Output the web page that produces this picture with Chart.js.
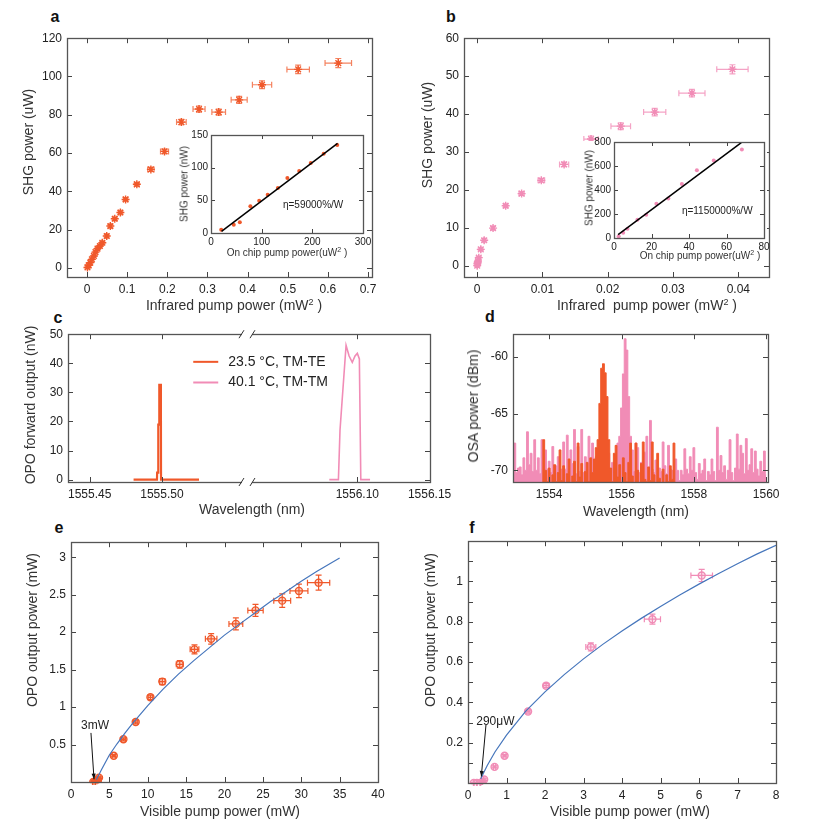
<!DOCTYPE html>
<html>
<head>
<meta charset="utf-8">
<script src="https://cdn.jsdelivr.net/npm/chart.js@4.4.0/dist/chart.umd.min.js"></script>
<style>
body { margin: 0; background: #fff; width: 838px; height: 834px; position: relative; overflow: hidden; font-family: "Liberation Sans", Arial, sans-serif; color: #333; }
canvas { position: absolute; }
.t { position: absolute; white-space: nowrap; transform: translate(-50%, -50%); font-size: 14px; }
.t.v { transform: translate(-50%, -50%) rotate(-90deg); }
.t.s { font-size: 10px; }
.t sup { font-size: 9px; }
.t.s sup { font-size: 7px; }
.L { position: absolute; font-weight: bold; font-size: 16px; color: #111; transform: translate(-50%, -50%); }
</style>
</head>
<body>

<div class="L" style="left:55px;top:17px">a</div>
<div class="L" style="left:451px;top:17px">b</div>
<div class="L" style="left:58px;top:318px">c</div>
<div class="L" style="left:490px;top:317px">d</div>
<div class="L" style="left:59px;top:528px">e</div>
<div class="L" style="left:472px;top:528px">f</div>

<script>
// Colours
const ORANGE = 'rgb(240,88,42)';
const PINK = 'rgb(241,140,182)';
const BLUE = 'rgb(70,118,188)';
const FONT = '"Liberation Sans", Arial, sans-serif';

// ---- a: SHG vs infrared pump (TM-TE) ----
const aX = [0.001, 0.004, 0.008, 0.012, 0.017, 0.021, 0.026, 0.032, 0.038, 0.049, 0.058, 0.069, 0.083, 0.096, 0.124, 0.159, 0.193, 0.235, 0.279, 0.328, 0.379, 0.436, 0.526, 0.626];
const aY = [0.3, 1.4, 2.8, 4.5, 6.3, 8.3, 10.1, 11.5, 13.2, 16.7, 21.9, 25.7, 29.0, 35.8, 43.7, 51.5, 60.9, 76.2, 83.0, 81.4, 87.8, 95.7, 103.7, 107.0];
const aXErr = [0, 0, 0, 0.001, 0.001, 0.001, 0.001, 0.002, 0.002, 0.003, 0.003, 0.004, 0.004, 0.005, 0.006, 0.008, 0.010, 0.012, 0.015, 0.017, 0.020, 0.024, 0.028, 0.033];
const aYErr = [0.3, 0.3, 0.3, 0.3, 0.4, 0.4, 0.5, 0.5, 0.6, 0.6, 0.7, 0.8, 0.8, 0.9, 1.0, 1.1, 1.2, 1.4, 1.6, 1.6, 1.8, 2.0, 2.2, 2.4];
const aXTicks = [0, 0.1, 0.2, 0.3, 0.4, 0.5, 0.6, 0.7];
const aXLabels = ['0', '0.1', '0.2', '0.3', '0.4', '0.5', '0.6', '0.7'];
const aYTicks = [0, 20, 40, 60, 80, 100, 120];
const aYLabels = ['0', '20', '40', '60', '80', '100', '120'];

// inset of a
const iaX = [20.1, 44.9, 56.9, 77.7, 95.1, 111.9, 132, 150.7, 174.1, 196.9, 222.4, 249.2];
const iaY = [5.1, 12.8, 16.3, 40.8, 49.5, 58.7, 68.9, 84.2, 94.9, 107.1, 121.4, 134.7];
const iaFitX = [20.8, 249.8];
const iaFitY = [2.6, 137.2];
const iaXTicks = [0, 100, 200, 300];
const iaYTicks = [0, 50, 100, 150];

// ---- b: SHG vs infrared pump (TM-TM) ----
const bX = [0.00002, 0.00005, 0.0001, 0.00015, 0.00026, 0.00057, 0.00109, 0.00245, 0.00438, 0.00682, 0.00984, 0.01333, 0.01745, 0.0220, 0.0272, 0.0329, 0.0391];
const bY = [0, 0.5, 0.9, 1.2, 2.1, 4.3, 6.7, 9.9, 15.8, 19.0, 22.5, 26.7, 33.4, 36.8, 40.5, 45.5, 51.8];
const bXErr = [0, 0, 0, 0, 0, 0.00005, 0.0001, 0.00015, 0.0003, 0.0004, 0.0005, 0.0007, 0.0011, 0.0015, 0.0017, 0.002, 0.0024];
const bYErr = [0.3, 0.3, 0.3, 0.3, 0.3, 0.3, 0.4, 0.4, 0.5, 0.5, 0.5, 0.6, 0.8, 0.9, 1.0, 1.0, 1.2];
const bXTicks = [0, 0.01, 0.02, 0.03, 0.04];
const bXLabels = ['0', '0.01', '0.02', '0.03', '0.04'];
const bYTicks = [0, 10, 20, 30, 40, 50, 60];

// inset of b
const ibX = [2.5, 4.9, 7.2, 12.5, 17.2, 22.6, 29, 36.2, 44.2, 53.2, 68.2];
const ibY = [14, 44, 78, 152, 194, 285, 330, 449, 565, 645, 737];
const ibFitX = [2.2, 67.9];
const ibFitY = [28, 795];
const ibXTicks = [0, 20, 40, 60, 80];
const ibYTicks = [0, 200, 400, 600, 800];

// ---- c: OPO forward output spectra (broken wavelength axis) ----
const cShift = 0.4647; // right segment is drawn shifted left by this much
const cBreak = 1555.5589;
const cOrangeX = [1555.4804, 1555.4966, 1555.4967, 1555.4974, 1555.4975, 1555.4981, 1555.4982, 1555.4993, 1555.4994, 1555.5257];
const cOrangeY = [0, 0, 2.4, 2.4, 18.9, 18.9, 32.6, 32.6, 0, 0];
const cPinkX = [1556.0806, 1556.0869, 1556.0880, 1556.0922, 1556.0943, 1556.0965, 1556.0984, 1556.1000, 1556.1014, 1556.1024, 1556.1088];
const cPinkY = [0, 0, 17, 46.2, 42.5, 40.3, 42.5, 43.4, 41.5, 0, 0];
const cXTicks = [1555.45, 1555.50, 1556.10, 1556.15];
const cXLabels = ['1555.45', '1555.50', '1556.10', '1556.15'];
const cYTicks = [0, 10, 20, 30, 40, 50];
const cLegend = ['23.5 \u00B0C, TM-TE', '40.1 \u00B0C, TM-TM'];

// ---- d: OSA spectra, one value every 0.05 nm ----
const dPinkStart = 1553.0, dOrangeStart = 1553.8, dStep = 0.05;
const dPink = [-70.5, -67.6, -70.2, -69.8, -69.7, -70.4, -68.9, -70.0, -66.6, -69.5,
  -68.5, -70.1, -67.3, -70.0, -68.9, -70.3, -67.3, -69.8, -68.2, -69.9,
  -69.2, -70.2, -67.9, -69.8, -69.6, -68.8, -70.4, -69.9, -67.5, -69.9,
  -66.9, -70.1, -68.2, -69.4, -66.4, -70.3, -67.9, -70.1, -66.4, -70.2,
  -68.8, -69.9, -67.0, -70.1, -67.6, -69.8, -68.8, -70.4, -69.5, -70.0,
  -71.0, -69.8, -70.3, -68.5, -70.1, -69.3, -70.2, -68.9, -67.6, -67.0,
  -64.5, -61.5, -58.4, -59.4, -63.5, -67.0, -68.2, -70.1, -67.6, -68.0,
  -70.2, -69.3, -70.4, -68.4, -67.0, -69.8, -65.6, -69.9, -70.2, -69.1,
  -70.5, -69.8, -70.1, -67.5, -69.6, -70.3, -67.8, -69.9, -70.0, -70.8,
  -69.0, -70.0, -70.9, -70.0, -70.4, -68.1, -69.9, -70.3, -68.8, -70.0,
  -68.0, -70.2, -70.8, -69.4, -70.3, -70.0, -69.0, -70.9, -70.1, -70.4,
  -69.0, -70.1, -70.9, -66.2, -70.0, -68.7, -70.2, -69.6, -70.8, -70.0,
  -67.3, -70.2, -70.9, -69.8, -66.8, -69.9, -67.8, -68.5, -70.3, -67.2,
  -70.0, -69.5, -68.1, -70.2, -68.3, -69.9, -70.5, -69.2, -70.1, -68.3, -70.4];
const dOrange = [-71.2, -67.3, -70.0, -71.0, -69.8, -71.2, -70.4, -69.5, -71.0, -70.2,
  -68.2, -70.9, -69.6, -71.1, -70.3, -69.0, -71.2, -70.5, -69.2, -71.0,
  -67.6, -70.6, -69.4, -71.1, -70.1, -69.3, -71.0, -68.9, -70.2, -69.0,
  -68.0, -67.3, -64.1, -61.0, -60.6, -61.4, -63.5, -67.3, -69.8, -71.0,
  -68.5, -67.8, -70.6, -69.5, -71.2, -68.9, -70.2, -71.0, -69.3, -67.6,
  -70.5, -71.1, -67.6, -70.0, -71.3, -69.4, -67.5, -70.8, -71.0, -69.7,
  -70.9, -67.5, -70.4, -71.2, -68.5, -70.7, -71.1, -69.9, -71.3, -70.4,
  -71.0, -69.6, -70.8, -67.6, -71.2];
const dXTicks = [1554, 1556, 1558, 1560];
const dYTicks = [-60, -65, -70];

// ---- e: OPO output vs visible pump (TM-TE) ----
const eX = [2.9, 3.1, 3.3, 3.5, 3.65, 5.57, 6.83, 8.43, 10.35, 11.9, 14.17, 16.09, 18.26, 21.48, 24.04, 27.52, 29.7, 32.26];
const eY = [0, 0, 0.01, 0.02, 0.058, 0.35, 0.57, 0.80, 1.13, 1.34, 1.57, 1.77, 1.91, 2.11, 2.29, 2.42, 2.55, 2.66];
const eXErr = [0.1, 0.1, 0.1, 0.1, 0.15, 0.2, 0.25, 0.28, 0.3, 0.35, 0.45, 0.57, 0.75, 0.9, 1.0, 1.1, 1.17, 1.45];
const eYErr = [0.01, 0.01, 0.01, 0.01, 0.01, 0.015, 0.02, 0.025, 0.03, 0.04, 0.05, 0.06, 0.07, 0.08, 0.08, 0.09, 0.09, 0.1];
const eFitX = [3.3, 4, 5, 6, 7, 8, 10, 12, 14, 16, 18, 20, 22, 24, 26, 28, 30, 32, 35];
const eFitY = [0.03, 0.17, 0.36, 0.51, 0.65, 0.78, 1.02, 1.24, 1.44, 1.62, 1.79, 1.96, 2.11, 2.26, 2.41, 2.54, 2.68, 2.81, 2.99];
const eXTicks = [0, 5, 10, 15, 20, 25, 30, 35, 40];
const eYTicks = [0.5, 1, 1.5, 2, 2.5, 3];

// ---- f: OPO output vs visible pump (TM-TM) ----
const fX = [0.15, 0.23, 0.32, 0.37, 0.42, 0.69, 0.95, 1.56, 2.03, 3.19, 4.79, 6.07];
const fY = [0, 0, 0, 0.005, 0.017, 0.08, 0.135, 0.355, 0.483, 0.675, 0.813, 1.03];
const fXErr = [0.01, 0.01, 0.01, 0.01, 0.02, 0.03, 0.04, 0.05, 0.07, 0.13, 0.21, 0.28];
const fYErr = [0.003, 0.003, 0.003, 0.003, 0.004, 0.005, 0.006, 0.008, 0.01, 0.02, 0.025, 0.03];
const fFitX = [0.33, 0.4, 0.5, 0.7, 1, 1.5, 2, 2.5, 3, 3.5, 4, 4.5, 5, 5.5, 6, 6.5, 7, 7.5, 8];
const fFitY = [0.02, 0.048, 0.087, 0.154, 0.238, 0.357, 0.452, 0.538, 0.616, 0.688, 0.754, 0.817, 0.876, 0.933, 0.987, 1.038, 1.088, 1.136, 1.18];
const fXTicks = [0, 1, 2, 3, 4, 5, 6, 7, 8];
const fYTicks = [0.1, 0.2, 0.3, 0.4, 0.5, 0.6, 0.7, 0.8, 0.9, 1.0, 1.1];
const fYLabels = ['', '0.2', '', '0.4', '', '0.6', '', '0.8', '', '1', ''];

// helpers
const pts = (xs, ys, shift = 0) => xs.map((x, i) => ({ x: x - shift, y: ys[i] }));
const seq = (start, vals) => vals.map((v, i) => ({ x: start + i * dStep, y: v }));
const str = arr => arr.map(v => String(v));

// gnuplot-like frame with inward ticks on all sides
const frame = {
  id: 'frame',
  beforeDraw(chart, args, o) {
    if (!o.bg) return;
    const a = chart.chartArea, ctx = chart.ctx;
    ctx.save();
    ctx.fillStyle = '#fff';
    ctx.fillRect(0, a.top - 1, a.right + 3, chart.height - a.top + 1);
    ctx.restore();
  },
  afterDatasetsDraw(chart, args, o) {
    const { ctx, chartArea: a, scales: { x, y } } = chart;
    const tl = o.tick || 5;
    ctx.save();
    ctx.strokeStyle = '#444';
    ctx.lineWidth = 1;
    ctx.beginPath();
    x.ticks.forEach(t => {
      const px = Math.round(x.getPixelForValue(t.value)) + 0.5;
      ctx.moveTo(px, a.bottom); ctx.lineTo(px, a.bottom - tl);
      ctx.moveTo(px, a.top); ctx.lineTo(px, a.top + tl);
    });
    y.ticks.forEach(t => {
      const py = Math.round(y.getPixelForValue(t.value)) + 0.5;
      ctx.moveTo(a.left, py); ctx.lineTo(a.left + tl, py);
      ctx.moveTo(a.right, py); ctx.lineTo(a.right - tl, py);
    });
    ctx.stroke();
    ctx.strokeStyle = '#555';
    ctx.lineWidth = 1.3;
    ctx.strokeRect(Math.round(a.left) + 0.5, Math.round(a.top) + 0.5, Math.round(a.right - a.left), Math.round(a.bottom - a.top));
    if (o.breakAt !== undefined) {
      const bx = x.getPixelForValue(o.breakAt);
      [a.top, a.bottom].forEach(yy => {
        ctx.fillStyle = '#fff';
        ctx.fillRect(bx - 5, yy - 3, 10, 6);
        ctx.strokeStyle = '#333';
        ctx.lineWidth = 1;
        ctx.beginPath();
        ctx.moveTo(bx - 8, yy + 4); ctx.lineTo(bx - 3, yy - 4);
        ctx.moveTo(bx + 3, yy + 4); ctx.lineTo(bx + 8, yy - 4);
        ctx.stroke();
      });
    }
    ctx.restore();
  }
};

// error bars from dataset.errX / dataset.errY
const errorBars = {
  id: 'errorBars',
  beforeDatasetsDraw(chart) {
    const { ctx, scales: { x, y } } = chart;
    ctx.save();
    chart.data.datasets.forEach(ds => {
      if (!ds.errX) return;
      ctx.strokeStyle = ds.errColor || ds.borderColor;
      ctx.lineWidth = 1.2;
      ctx.beginPath();
      ds.data.forEach((p, i) => {
        const px = x.getPixelForValue(p.x), py = y.getPixelForValue(p.y);
        const x1 = x.getPixelForValue(p.x - ds.errX[i]), x2 = x.getPixelForValue(p.x + ds.errX[i]);
        const y1 = y.getPixelForValue(p.y - ds.errY[i]), y2 = y.getPixelForValue(p.y + ds.errY[i]);
        const c = 3;
        ctx.moveTo(x1, py); ctx.lineTo(x2, py);
        ctx.moveTo(x1, py - c); ctx.lineTo(x1, py + c);
        ctx.moveTo(x2, py - c); ctx.lineTo(x2, py + c);
        ctx.moveTo(px, y1); ctx.lineTo(px, y2);
        ctx.moveTo(px - c, y1); ctx.lineTo(px + c, y1);
        ctx.moveTo(px - c, y2); ctx.lineTo(px + c, y2);
      });
      ctx.stroke();
    });
    ctx.restore();
  }
};

// text, arrows and legend entries placed in data coordinates
const notes = {
  id: 'notes',
  afterDraw(chart, args, o) {
    const { ctx, scales: { x, y } } = chart;
    ctx.save();
    (o.lines || []).forEach(l => {
      const x1 = x.getPixelForValue(l.x1), y1 = y.getPixelForValue(l.y1);
      const x2 = x.getPixelForValue(l.x2), y2 = y.getPixelForValue(l.y2);
      ctx.strokeStyle = l.color || '#111';
      ctx.lineWidth = l.width || 1;
      ctx.beginPath(); ctx.moveTo(x1, y1); ctx.lineTo(x2, y2); ctx.stroke();
      if (l.arrow) {
        const ang = Math.atan2(y2 - y1, x2 - x1), h = 6;
        ctx.fillStyle = l.color || '#111';
        ctx.beginPath();
        ctx.moveTo(x2, y2);
        ctx.lineTo(x2 - h * Math.cos(ang - 0.35), y2 - h * Math.sin(ang - 0.35));
        ctx.lineTo(x2 - h * Math.cos(ang + 0.35), y2 - h * Math.sin(ang + 0.35));
        ctx.closePath(); ctx.fill();
      }
    });
    (o.texts || []).forEach(t => {
      ctx.fillStyle = '#222';
      ctx.font = (t.size || 12) + 'px ' + FONT;
      ctx.textAlign = t.align || 'left';
      ctx.textBaseline = 'middle';
      ctx.fillText(t.text, x.getPixelForValue(t.x), y.getPixelForValue(t.y));
    });
    ctx.restore();
  }
};

function axis(s, size, dir) {
  return {
    type: 'linear',
    min: s.min,
    max: s.max,
    grid: { display: false, drawTicks: false },
    border: { display: false },
    afterBuildTicks: sc => { sc.ticks = s.ticks.map(v => ({ value: v })); },
    afterFit: sc => { if (dir === 'x') sc.height = size; else sc.width = size; },
    ticks: {
      autoSkip: false, maxRotation: 0, minRotation: 0,
      padding: s.pad || 5,
      color: '#222',
      font: { family: FONT, size: s.font || 12 },
      callback: (v, i) => s.labels[i]
    }
  };
}

// box = plot area [left, top, right, bottom] in page pixels, m = margins around it
function makeChart(box, m, xs, ys, datasets, pluginOpts) {
  const [L, T, R, B] = box;
  const W = R - L + m.l + m.r, H = B - T + m.t + m.b;
  const cv = document.createElement('canvas');
  cv.width = W; cv.height = H;
  cv.style.left = (L - m.l) + 'px';
  cv.style.top = (T - m.t) + 'px';
  cv.style.width = W + 'px';
  cv.style.height = H + 'px';
  document.body.appendChild(cv);
  return new Chart(cv, {
    type: 'scatter',
    data: { datasets: datasets },
    options: {
      responsive: false,
      animation: false,
      devicePixelRatio: 1,
      layout: { padding: { left: 0, top: m.t, right: m.r, bottom: 0 } },
      plugins: Object.assign({ legend: { display: false }, tooltip: { enabled: false } }, pluginOpts || {}),
      scales: { x: axis(xs, m.b, 'x'), y: axis(ys, m.l, 'y') }
    },
    plugins: [frame, errorBars, notes]
  });
}

const MAIN = { l: 60, t: 12, r: 30, b: 40 };
const INSET = { l: 32, t: 8, r: 14, b: 22 };

// a
makeChart([67, 38, 372, 277], MAIN,
  { min: -0.05, max: 0.71, ticks: aXTicks, labels: aXLabels },
  { min: -4.7, max: 120, ticks: aYTicks, labels: aYLabels },
  [{ data: pts(aX, aY), errX: aXErr, errY: aYErr, errColor: 'rgba(240,88,42,0.75)',
     pointStyle: 'star', pointRadius: 4, borderWidth: 1.4, borderColor: ORANGE, backgroundColor: ORANGE }]);

makeChart([211, 134, 363, 233], INSET,
  { min: 0, max: 300, ticks: iaXTicks, labels: str(iaXTicks), font: 10, pad: 3 },
  { min: 0, max: 150, ticks: iaYTicks, labels: str(iaYTicks), font: 10, pad: 3 },
  [{ data: pts(iaFitX, iaFitY), showLine: true, pointRadius: 0, borderColor: '#000', borderWidth: 1.5 },
   { data: pts(iaX, iaY), pointRadius: 2, borderWidth: 0, backgroundColor: ORANGE }],
  { frame: { bg: true, tick: 4 }, notes: { texts: [{ x: 142, y: 43, text: '\u03B7=59000%/W', size: 10 }] } });

// b
makeChart([464, 38, 769, 277], MAIN,
  { min: -0.002, max: 0.0447, ticks: bXTicks, labels: bXLabels },
  { min: -3, max: 60, ticks: bYTicks, labels: str(bYTicks) },
  [{ data: pts(bX, bY), errX: bXErr, errY: bYErr, errColor: 'rgba(241,140,182,0.8)',
     pointStyle: 'star', pointRadius: 4, borderWidth: 1.4, borderColor: PINK, backgroundColor: PINK }]);

makeChart([614, 141, 764, 238], INSET,
  { min: 0, max: 80, ticks: ibXTicks, labels: str(ibXTicks), font: 10, pad: 3 },
  { min: 0, max: 800, ticks: ibYTicks, labels: str(ibYTicks), font: 10, pad: 3 },
  [{ data: pts(ibFitX, ibFitY), showLine: true, pointRadius: 0, borderColor: '#000', borderWidth: 1.5 },
   { data: pts(ibX, ibY), pointRadius: 2, borderWidth: 0, backgroundColor: PINK }],
  { frame: { bg: true, tick: 4 }, notes: { texts: [{ x: 36.2, y: 221, text: '\u03B7=1150000%/W', size: 10 }] } });

// c (right segment shifted so the axis can be broken)
makeChart([68, 334, 430, 482], MAIN,
  { min: 1555.435, max: 1556.1503 - cShift,
    ticks: cXTicks.map(v => v > cBreak ? v - cShift : v), labels: cXLabels },
  { min: -0.8, max: 50, ticks: cYTicks, labels: str(cYTicks) },
  [{ data: pts(cOrangeX, cOrangeY), showLine: true, pointRadius: 0, borderColor: ORANGE, borderWidth: 2.2 },
   { data: pts(cPinkX, cPinkY, cShift), showLine: true, pointRadius: 0, borderColor: PINK, borderWidth: 1.6 }],
  { frame: { breakAt: cBreak },
    notes: {
      lines: [{ x1: 1555.5217, y1: 40.5, x2: 1555.5390, y2: 40.5, color: ORANGE, width: 2 },
              { x1: 1555.5217, y1: 33.4, x2: 1555.5390, y2: 33.4, color: PINK, width: 2 }],
      texts: [{ x: 1555.5459, y: 40.5, text: cLegend[0], size: 14 },
              { x: 1555.5459, y: 33.4, text: cLegend[1], size: 14 }]
    } });

// d (line datasets so the filler sees them)
makeChart([513, 334, 768, 482], MAIN,
  { min: 1553.0, max: 1560.05, ticks: dXTicks, labels: str(dXTicks) },
  { min: -71.03, max: -58.0, ticks: dYTicks, labels: str(dYTicks) },
  [{ type: 'line', data: seq(dOrangeStart, dOrange), stepped: 'middle', pointRadius: 0,
     borderColor: ORANGE, backgroundColor: ORANGE, borderWidth: 1, fill: 'start' },
   { type: 'line', data: seq(dPinkStart, dPink), stepped: 'middle', pointRadius: 0,
     borderColor: PINK, backgroundColor: PINK, borderWidth: 1, fill: 'start' }]);

// e
makeChart([71, 542, 378, 782], MAIN,
  { min: 0, max: 40, ticks: eXTicks, labels: str(eXTicks) },
  { min: 0, max: 3.2, ticks: eYTicks, labels: str(eYTicks) },
  [{ data: pts(eFitX, eFitY), showLine: true, pointRadius: 0, borderColor: BLUE, borderWidth: 1.2 },
   { data: pts(eX, eY), errX: eXErr, errY: eYErr, pointRadius: 3.5, borderWidth: 1.4,
     borderColor: ORANGE, backgroundColor: 'rgba(240,88,42,0.25)' }],
  { notes: { lines: [{ x1: 2.6, y1: 0.655, x2: 3.0, y2: 0.036, arrow: true, width: 1 }],
             texts: [{ x: 3.13, y: 0.745, text: '3mW', align: 'center', size: 12 }] } });

// f
makeChart([468, 541, 776, 783], MAIN,
  { min: 0, max: 8, ticks: fXTicks, labels: str(fXTicks) },
  { min: 0, max: 1.2, ticks: fYTicks, labels: fYLabels },
  [{ data: pts(fFitX, fFitY), showLine: true, pointRadius: 0, borderColor: BLUE, borderWidth: 1.2 },
   { data: pts(fX, fY), errX: fXErr, errY: fYErr, pointRadius: 3.5, borderWidth: 1.4,
     borderColor: PINK, backgroundColor: 'rgba(241,140,182,0.25)' }],
  { notes: { lines: [{ x1: 0.467, y1: 0.288, x2: 0.345, y2: 0.032, arrow: true, width: 1 }],
             texts: [{ x: 0.71, y: 0.305, text: '290\u03BCW', align: 'center', size: 12 }] } });
</script>

<!-- axis titles -->
<div class="t" style="left:234px;top:305px">Infrared pump power (mW<sup>2</sup> )</div>
<div class="t v" style="left:28px;top:142px">SHG power (uW)</div>
<div class="t s" style="left:287px;top:252px">On chip pump power(uW<sup>2</sup> )</div>
<div class="t s v" style="left:184px;top:184px">SHG power (nW)</div>

<div class="t" style="left:647px;top:305px">Infrared&nbsp; pump power (mW<sup>2</sup> )</div>
<div class="t v" style="left:427px;top:135px">SHG power (uW)</div>
<div class="t s" style="left:700px;top:255px">On chip pump power(uW<sup>2</sup> )</div>
<div class="t s v" style="left:589px;top:188px">SHG power (nW)</div>

<div class="t" style="left:252px;top:509px">Wavelength (nm)</div>
<div class="t v" style="left:30px;top:405px">OPO forward output (nW)</div>

<div class="t" style="left:636px;top:511px">Wavelength (nm)</div>
<div class="t v" style="left:473px;top:406px">OSA power (dBm)</div>

<div class="t" style="left:220px;top:811px">Visible pump power (mW)</div>
<div class="t v" style="left:32px;top:630px">OPO output power (mW)</div>

<div class="t" style="left:630px;top:811px">Visible pump power (mW)</div>
<div class="t v" style="left:430px;top:630px">OPO output power (mW)</div>
</body>
</html>
